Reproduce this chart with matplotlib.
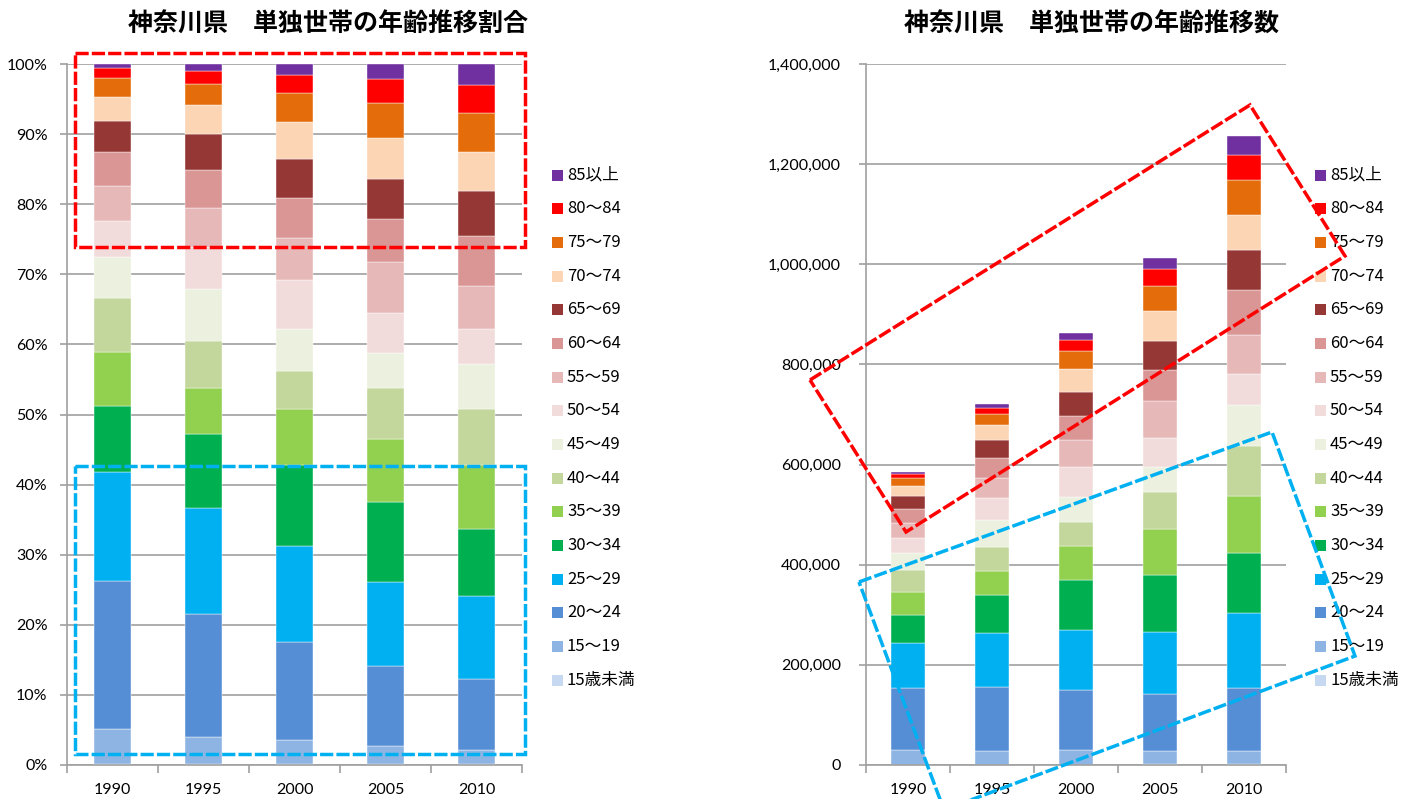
import matplotlib
matplotlib.use("Agg")
import matplotlib.pyplot as plt
import numpy as np
from matplotlib.patches import Rectangle, Polygon
from matplotlib.ticker import FuncFormatter, FixedLocator

plt.rcParams['font.family'] = ['Lato', 'Noto Sans CJK JP', 'DejaVu Sans']

# ---- data ----
years = ["1990", "1995", "2000", "2005", "2010"]
age_groups = ["15歳未満", "15〜19", "20〜24", "25〜29", "30〜34", "35〜39", "40〜44",
              "45〜49", "50〜54", "55〜59", "60〜64", "65〜69", "70〜74", "75〜79",
              "80〜84", "85以上"]
colors = ["#C6D9F1", "#8EB4E3", "#558ED5", "#00B0F0", "#00B050", "#92D050", "#C3D69B",
          "#EBF1DE", "#F2DCDB", "#E6B9B8", "#D99694", "#953735", "#FCD5B5", "#E46C0A",
          "#FF0000", "#7030A0"]

# share (%) of each age group, bottom to top
pct_1990 = [0.1, 5.0, 21.2, 15.55, 9.35, 7.8, 7.7, 5.9, 5.1, 5.0, 4.9, 4.3, 3.5, 2.7, 1.4, 0.6]
pct_1995 = [0.1, 3.9, 17.6, 15.1, 10.5, 6.7, 6.6, 7.4, 6.0, 5.7, 5.4, 5.1, 4.2, 2.9, 1.9, 1.0]
pct_2000 = [0.1, 3.4, 14.0, 13.8, 11.5, 8.0, 5.5, 5.9, 7.0, 6.1, 5.7, 5.6, 5.2, 4.2, 2.5, 1.6]
pct_2005 = [0.1, 2.6, 11.4, 12.1, 11.3, 9.1, 7.2, 5.1, 5.7, 7.2, 6.2, 5.7, 5.8, 5.0, 3.4, 2.2]
pct_2010 = [0.1, 2.1, 10.1, 11.9, 9.5, 9.1, 8.0, 6.5, 5.0, 6.1, 7.2, 6.3, 5.7, 5.5, 4.0, 3.0]

# total single-person households per year
totals = [585000, 721000, 862000, 1013000, 1256000]

title_left = "神奈川県　単独世帯の年齢推移割合"
title_right = "神奈川県　単独世帯の年齢推移数"

# ---- figure ----
W, H = 1416, 799
fig = plt.figure(figsize=(W / 100, H / 100), dpi=100)


def fx(px):
    return px / W


def fy(py):
    return 1 - py / H


pct = np.array([pct_1990, pct_1995, pct_2000, pct_2005, pct_2010])  # (years, groups)
share = pct / pct.sum(axis=1, keepdims=True) * 100
counts = share / 100 * np.array(totals)[:, None]

ax1 = fig.add_axes([fx(67), fy(765), fx(522) - fx(67), fy(64) - fy(765)])
ax2 = fig.add_axes([fx(866), fy(765), fx(1286) - fx(866), fy(64) - fy(765)])

x = np.arange(len(years))
grid_c = "#A0A0A0"
tick_font = dict(fontsize=11.5, color="#000000")


def style_axis(ax):
    ax.set_axisbelow(True)
    ax.grid(axis="y", color=grid_c, linewidth=1.2)
    for s in ["top", "right"]:
        ax.spines[s].set_visible(False)
    for s in ["left", "bottom"]:
        ax.spines[s].set_color(grid_c)
        ax.spines[s].set_linewidth(1.2)
    ax.set_xlim(-0.5, len(years) - 0.5)
    ax.set_xticks(x)
    ax.set_xticklabels(years, **tick_font)
    ax.tick_params(axis="x", which="major", length=0, pad=13)
    ax.xaxis.set_minor_locator(FixedLocator(np.arange(-0.5, len(years), 1.0)))
    ax.tick_params(axis="x", which="minor", length=6, width=1.2, color=grid_c, direction="out")
    ax.tick_params(axis="y", length=5, width=1.2, color=grid_c, direction="out", labelsize=11.5)


for ax, data in ((ax1, share), (ax2, counts)):
    bottom = np.zeros(len(years))
    for g in range(len(age_groups)):
        ax.bar(x, data[:, g], bottom=bottom, width=0.4, color=colors[g],
               edgecolor="white", linewidth=0.3, label=age_groups[g])
        bottom += data[:, g]
    style_axis(ax)

ax1.set_ylim(0, 100)
ax1.set_yticks(np.arange(0, 101, 10))
ax1.yaxis.set_major_formatter(FuncFormatter(lambda v, p: f"{int(v)}%"))
ax1.tick_params(axis="y", pad=9)

ax2.set_ylim(0, 1400000)
ax2.set_yticks(np.arange(0, 1400001, 200000))
ax2.yaxis.set_major_formatter(FuncFormatter(lambda v, p: f"{int(v):,}"))
ax2.tick_params(axis="y", pad=13)

# titles
fig.text(fx(328), fy(25), title_left, ha="center", va="center", fontsize=18,
         fontweight="bold", family=["Noto Sans CJK JP"])
fig.text(fx(1092), fy(25), title_right, ha="center", va="center", fontsize=18,
         fontweight="bold", family=["Noto Sans CJK JP"])

# legends (manual, top = 85以上)
for lx in (552, 1315):
    for i, g in enumerate(reversed(range(len(age_groups)))):
        yc = 175 + i * 33.67
        fig.patches.append(Rectangle((fx(lx), fy(yc + 5.5)), fx(11), 11 / H,
                                     transform=fig.transFigure, facecolor=colors[g],
                                     edgecolor="none"))
        fig.text(fx(lx + 15), fy(yc), age_groups[g], ha="left", va="center",
                 fontsize=12, family=["Noto Sans CJK JP"])

# dashed annotation boxes
dash = (0, (3.8, 0.9))


def add_box(pts, col):
    poly = Polygon([(fx(a), fy(b)) for a, b in pts], closed=True, fill=False,
                   edgecolor=col, linewidth=2.5, linestyle=dash,
                   transform=fig.transFigure, zorder=10)
    fig.patches.append(poly)


add_box([(75, 52.5), (525, 52.5), (525, 247), (75, 247)], "#FF0000")
add_box([(75, 466), (525, 466), (525, 754), (75, 754)], "#00B0F0")
add_box([(810, 380), (1250, 105), (1345, 256), (906, 532)], "#FF0000")
add_box([(859, 582), (1272, 432), (1355, 656), (944, 810)], "#00B0F0")

fig.savefig("out.png", dpi=100)
